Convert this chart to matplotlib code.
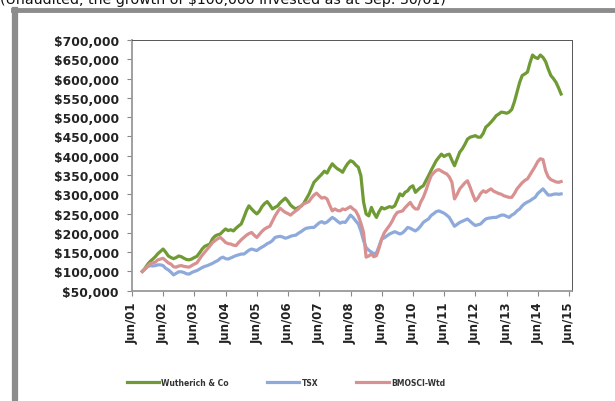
import numpy as np
import pandas as pd
import matplotlib
matplotlib.use("Agg")
import matplotlib.pyplot as plt
from matplotlib.lines import Line2D
from matplotlib.ticker import FuncFormatter

# monthly values in $000, Sep 2001 .. Feb 2015
wutherich = [
    100, 108, 118, 126,
    132, 138, 146, 152, 158, 150, 140, 136, 133, 136, 140, 138,
    134, 131, 130, 132, 136, 139, 148, 158, 165, 168, 171, 185,
    192, 195, 197, 204, 210, 206, 208, 205, 212, 218, 223, 240,
    258, 270, 262, 255, 249, 256, 268, 276, 281, 272, 262, 266,
    270, 278, 284, 290, 282, 272, 266, 262, 266, 269, 276, 288,
    300, 315, 331, 338, 345, 352, 360, 355, 368, 379, 372, 366,
    362, 357, 370, 380, 387, 384, 376, 370, 348, 280, 249, 244,
    266, 252, 240, 255, 266, 262, 265, 268, 266, 270, 285, 301,
    296, 305, 309, 318, 322, 305, 312, 318, 322, 335, 348, 362,
    375, 387, 396, 404, 398, 402, 404, 388, 374, 392, 409, 418,
    430, 443, 448, 450, 452, 448, 448, 458, 474, 480, 487, 495,
    504, 508, 513, 512, 510, 513, 520, 540, 565, 590, 608, 612,
    617, 640, 661, 655, 652, 661, 655, 644, 625, 608, 600, 590,
    575, 560,
]
tsx = [
    100, 106, 112, 115,
    114, 115, 117, 117, 115, 108, 104, 98, 91, 95, 99, 99,
    97, 94, 93, 97, 100, 102, 106, 110, 113, 115, 118, 121,
    125, 128, 134, 137, 133, 132, 135, 138, 141, 143, 145, 145,
    150, 155, 158, 156, 154, 159, 163, 167, 172, 175, 180, 188,
    190, 191, 189, 186, 188, 191, 193, 194, 199, 203, 208, 212,
    213, 214, 214, 220, 226, 229, 225, 228, 234, 240, 236, 230,
    225, 228, 227, 236, 246, 240, 231, 223, 205, 180, 162, 155,
    150, 146, 148, 165, 184, 187, 192, 197, 200, 203, 200, 197,
    200, 206, 214, 212, 208, 205, 210, 218, 227, 232, 236, 245,
    250, 255, 257, 254, 251, 246, 240, 228, 217, 222, 227, 230,
    233, 236, 230, 224, 219, 221, 223, 230, 236, 238, 239, 240,
    240, 243, 246, 246, 243, 240, 246, 250, 257, 262, 270, 276,
    280, 283, 288, 292, 302, 308, 314, 306, 298, 298, 300, 301,
    300, 301,
]
bmosci = [
    100, 106, 114, 120,
    122, 124, 130, 132, 134, 128, 122, 119, 112, 111, 114, 115,
    113, 112, 111, 115, 119, 122, 132, 142, 150, 158, 166, 175,
    180, 185, 188, 182, 175, 172, 171, 168, 167, 175, 182, 188,
    194, 198, 201, 194, 188, 196, 204, 210, 214, 217, 230, 244,
    255, 264, 258, 253, 250, 246, 252, 257, 262, 270, 275, 278,
    281, 290, 298, 303, 296, 290, 292, 288, 272, 257, 262, 258,
    257, 262, 260, 264, 268, 262, 257, 244, 225, 201, 137, 140,
    145, 138, 141, 160, 184, 200, 210, 219, 230, 244, 253, 255,
    257, 265, 272, 279, 268, 262, 262, 280, 292, 310, 330, 348,
    356, 362, 364, 360, 356, 353, 345, 331, 288, 300, 314, 322,
    330, 335, 318, 300, 283, 290, 302, 309, 305, 310, 314, 308,
    305, 302, 300, 296, 294, 292, 292, 302, 314, 322, 330, 336,
    340, 350, 361, 372, 385, 392, 390, 361, 345, 338, 335, 332,
    331, 333,
]
names = ["Wutherich & Co", "TSX", "BMOSCI-Wtd"]
colors = ["#6f9a34", "#8eaadb", "#d99090"]

dates = pd.date_range("2001-09-30", periods=len(wutherich), freq="ME")
tick_dates = pd.date_range("2001-06-01", "2015-06-01", freq="12MS")
tick_labels = [d.strftime("Jun/%y") for d in tick_dates]

fig = plt.figure(figsize=(6.15, 4.02), dpi=100)
ax = fig.add_axes([0.2146, 0.2744, 0.7154, 0.6236])

for vals, name, c in zip([wutherich, tsx, bmosci], names, colors):
    ax.plot(dates, np.array(vals) * 1000, color=c, lw=2.3, label=name,
            solid_joinstyle="round")

ax.set_xlim(pd.Timestamp("2001-06-01"), pd.Timestamp("2015-07-05"))
ax.set_ylim(50000, 700000)
ax.set_yticks(np.arange(50000, 700001, 50000))
ax.yaxis.set_major_formatter(FuncFormatter(lambda v, p: "${:,.0f}".format(v)))
ax.set_xticks(tick_dates)
ax.set_xticklabels(tick_labels, rotation=90)

for lab in ax.get_xticklabels():
    lab.set_fontweight("bold")
    lab.set_fontsize(8.5)
    lab.set_color("#222222")
for lab in ax.get_yticklabels():
    lab.set_fontweight("bold")
    lab.set_fontsize(8.8)
    lab.set_color("#222222")
ax.tick_params(axis="y", length=3.5, width=0.8, color="#888888", pad=6)
ax.tick_params(axis="x", length=3.5, width=0.8, color="#888888", pad=4)

for s in ["left", "bottom"]:
    ax.spines[s].set_color("#999999")
    ax.spines[s].set_linewidth(1.3)
for s in ["top", "right"]:
    ax.spines[s].set_color("#555555")
    ax.spines[s].set_linewidth(0.7)
    ax.spines[s].set_linestyle((0, (1, 1)))

leg = fig.legend(loc="center", bbox_to_anchor=(0.465, 0.047), ncol=3,
                 frameon=False, prop={"size": 5.5, "weight": "bold"},
                 handlelength=4.2, handletextpad=0.3, columnspacing=5.0)
for t in leg.get_texts():
    t.set_color("#333333")

# outer frame of the screenshot
fig.add_artist(Line2D([15 / 615, 15 / 615], [0, 1 - 11 / 402],
                      color="#8c8c8c", lw=4.5, transform=fig.transFigure))
fig.add_artist(Line2D([13 / 615, 1], [1 - 11 / 402, 1 - 11 / 402],
                      color="#8c8c8c", lw=3.5, transform=fig.transFigure))
fig.text(0.0, 1 - 4 / 402, "(Unaudited, the growth of $100,000 invested as at Sep. 30/01)",
         fontsize=10.2, ha="left", va="baseline", color="#111111")

fig.savefig("out.png", dpi=100)
